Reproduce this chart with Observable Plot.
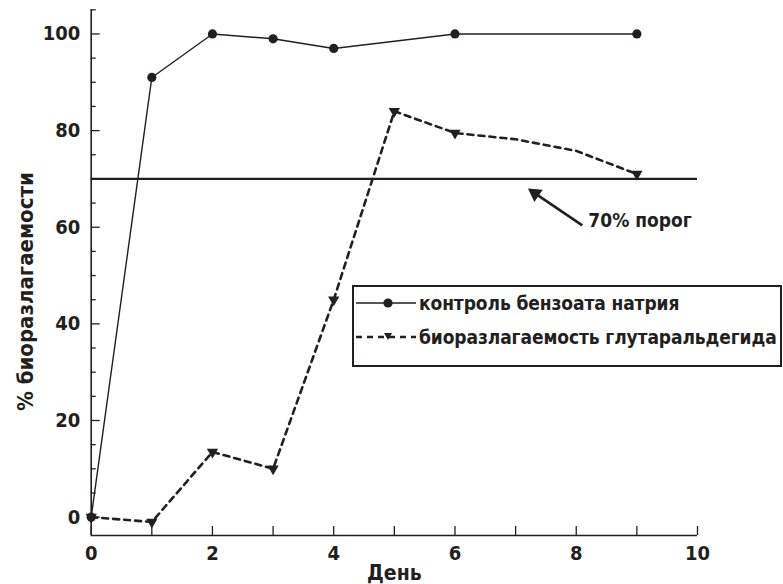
<!DOCTYPE html>
<html>
<head>
<meta charset="utf-8">
<script src="https://cdn.jsdelivr.net/npm/d3@7"></script>
<script src="https://cdn.jsdelivr.net/npm/@observablehq/plot@0.6"></script>
<style>
  body { margin: 0; background: #fff; }
  #wrap { position: relative; width: 783px; height: 584px; font-family: "Liberation Sans Narrow", "Arial Narrow", "DejaVu Sans Condensed", sans-serif; font-weight: bold; color: #231f20; }
  #legend { position: absolute; left: 352px; top: 285px; width: 426px; height: 78px; border: 2px solid #231f20; background: #fff; overflow: visible; }
  .row { position: absolute; left: 0; display: flex; align-items: center; font-size: 19px; letter-spacing: -0.1px; white-space: nowrap; }
  .row svg { margin-left: 2px; margin-right: 3px; }
</style>
</head>
<body>
<div id="wrap"></div>
<script>
// Data
const controlDays = [0, 1, 2, 3, 4, 6, 9];
const controlValues = [0, 91, 100, 99, 97, 100, 100];
const glutDays = [0, 1, 2, 3, 4, 5, 6, 7, 8, 9];
const glutValues = [0, -1, 13.5, 10, 45, 84, 79.5, 78.2, 75.8, 71];
const glutMarked = [true, true, true, true, true, true, true, false, false, true];
const xTickLabels = [0, 2, 4, 6, 8, 10];
const xTicksAll = [0, 1, 2, 3, 4, 5, 6, 7, 8, 9, 10];
const yTickLabels = [0, 20, 40, 60, 80, 100];
const yMinorTicks = [5, 10, 15, 25, 30, 35, 45, 50, 55, 65, 70, 75, 85, 90, 95, 105];
const threshold = [70];
const seriesNames = ["контроль бензоата натрия", "биоразлагаемость глутаральдегида"];
const annotation = {label: "70% порог", textX: 8.2, textY: 61.4, tailX: 8.1, tailY: 60.4, headX: 7.32, headY: 67.0};
const xLabel = "День";
const yLabel = "% биоразлагаемости";

const ink = "#231f20";
const control = controlDays.map((d, i) => ({day: d, v: controlValues[i]}));
const glut = glutDays.map((d, i) => ({day: d, v: glutValues[i], m: glutMarked[i]}));
const font = '"Liberation Sans Narrow", "Arial Narrow", "DejaVu Sans Condensed", sans-serif';

const chart = Plot.plot({
  width: 783,
  height: 584,
  marginLeft: 90.7,
  marginRight: 86,
  marginTop: 9.3,
  marginBottom: 49,
  style: {fontFamily: font, fontWeight: "bold", fontSize: "20px", color: ink, background: "transparent"},
  x: {domain: [0, 10], axis: null},
  y: {domain: [-3.8, 105], axis: null},
  marks: [
    // axes lines
    Plot.ruleX([0], {stroke: ink, strokeWidth: 1.6}),
    Plot.ruleY([-3.8], {stroke: ink, strokeWidth: 1.6}),
    // y ticks
    Plot.axisY({ticks: yMinorTicks, tickSize: -5, tickFormat: () => "", stroke: ink, strokeWidth: 1.3}),
    Plot.axisY({ticks: yTickLabels, tickSize: -9, tickFormat: () => "", stroke: ink, strokeWidth: 1.3}),
    Plot.axisY({ticks: yTickLabels, tickSize: 0, tickPadding: 11, fontSize: 20, fill: ink, label: null}),
    // x ticks
    Plot.axisX({ticks: xTicksAll, tickSize: -9, tickFormat: () => "", stroke: ink, strokeWidth: 1.3}),
    Plot.axisX({ticks: xTickLabels, tickSize: 0, tickPadding: 10, fontSize: 20, fill: ink, label: null}),
    // threshold
    Plot.ruleY(threshold, {stroke: ink, strokeWidth: 2.2}),
    // control series
    Plot.line(control, {x: "day", y: "v", stroke: ink, strokeWidth: 1.4}),
    Plot.dot(control, {x: "day", y: "v", r: 4.6, fill: ink}),
    // glutaraldehyde series
    Plot.line(glut, {x: "day", y: "v", stroke: ink, strokeWidth: 2.6, strokeDasharray: "6,5"}),
    Plot.dot(glut.filter(d => d.m), {x: "day", y: "v", symbol: "triangle", r: 4.2, rotate: 180, fill: ink}),
    // annotation arrow
    Plot.link([annotation], {x1: "tailX", y1: "tailY", x2: "headX", y2: "headY", stroke: ink, strokeWidth: 2.6}),
    Plot.dot([annotation], {x: "headX", y: "headY", symbol: "triangle", r: 5.5, rotate: -55.6, fill: ink}),
    Plot.text([annotation], {x: "textX", y: "textY", text: "label", textAnchor: "start", fontSize: 19, fill: ink}),
    // axis labels
    Plot.text([xLabel], {frameAnchor: "bottom", dy: 38, lineAnchor: "middle", fontSize: 21, fill: ink}),
    Plot.text([yLabel], {frameAnchor: "left", dx: -65, dy: 19, rotate: -90, textAnchor: "middle", fontSize: 22, fill: ink})
  ]
});

const wrap = document.getElementById("wrap");
wrap.appendChild(chart);

// legend
const legend = document.createElement("div");
legend.id = "legend";
const rows = [
  {top: 1, name: seriesNames[0], dashed: false},
  {top: 35, name: seriesNames[1], dashed: true}
];
rows.forEach(r => {
  const row = document.createElement("div");
  row.className = "row";
  row.style.top = r.top + "px";
  row.style.height = "30px";
  const sym = r.dashed
    ? `<svg width="60" height="20"><line x1="0" y1="10" x2="60" y2="10" stroke="${ink}" stroke-width="2.6" stroke-dasharray="6,5"/><path d="M28,6 L36,6 L32,13 Z" fill="${ink}"/></svg>`
    : `<svg width="60" height="20"><line x1="0" y1="10" x2="60" y2="10" stroke="${ink}" stroke-width="1.6"/><circle cx="32" cy="10" r="4.6" fill="${ink}"/></svg>`;
  row.innerHTML = sym + `<span>${r.name}</span>`;
  legend.appendChild(row);
});
wrap.appendChild(legend);
</script>
</body>
</html>
